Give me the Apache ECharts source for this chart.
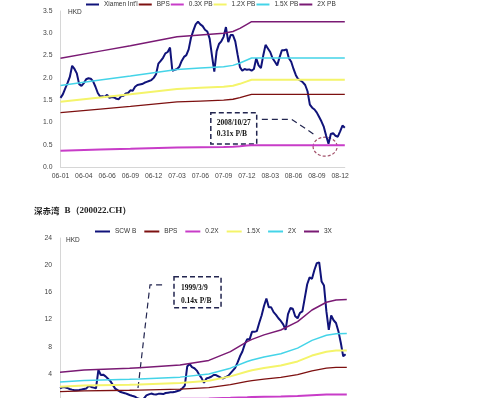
<!DOCTYPE html>
<html>
<head>
<meta charset="utf-8">
<script src="https://cdn.jsdelivr.net/npm/echarts@6/dist/echarts.min.js"></script>
<style>
  html, body { margin: 0; padding: 0; background: #fff; }
  #chart { width: 500px; height: 398px; }
</style>
</head>
<body>
<div id="chart"></div>
<script>
// ---- top chart: Xiamen Int'l (one price value per step, 10 steps between labels)
const topLabels = ['06-01', '06-04', '06-06', '06-09', '06-12', '07-03', '07-06', '07-09', '07-12', '08-03', '08-06', '08-09', '08-12']
const topPrice = [
  1.55, 1.63, 1.76, 1.88, 2.02, 2.27, 2.20, 2.10, 1.86, 1.82,
  1.88, 1.97, 1.99, 1.98, 1.92, 1.80, 1.66, 1.58, 1.59, 1.57,
  1.62, 1.55, 1.57, 1.56, 1.53, 1.52, 1.59, 1.60, 1.65, 1.66,
  1.72, 1.71, 1.80, 1.84, 1.85, 1.86, 1.89, 1.91, 1.93, 1.95,
  2.00, 2.08, 2.32, 2.38, 2.45, 2.55, 2.58, 2.68, 2.16, 2.18,
  2.20, 2.25, 2.38, 2.47, 2.51, 2.64, 2.90, 3.06, 3.20, 3.26,
  3.20, 3.16, 3.08, 3.04, 2.88, 2.50, 2.14, 2.60, 2.76, 2.82,
  2.92, 3.14, 2.80, 2.96, 2.96, 2.82, 2.52, 2.24, 2.16, 2.20,
  2.18, 2.19, 2.16, 2.20, 2.44, 2.28, 2.22, 2.50, 2.74, 2.66,
  2.58, 2.44, 2.36, 2.28, 2.46, 2.62, 2.62, 2.64, 2.44, 2.36,
  2.20, 2.06, 1.97, 1.94, 1.90, 1.84, 1.70, 1.40, 1.33, 1.29,
  1.22, 1.12, 1.02, 0.90, 0.70, 0.52, 0.74, 0.76, 0.70, 0.68,
  0.80, 0.93, 0.88
]
const topBpsX = [0, 17, 30, 50, 60, 70, 74, 77, 80, 82, 122]
const topBps = [1.22, 1.30, 1.36, 1.46, 1.48, 1.50, 1.52, 1.555, 1.60, 1.63, 1.63]
const top03x = [0.366, 0.39, 0.408, 0.438, 0.444, 0.45, 0.456, 0.467, 0.48, 0.489, 0.489]
const top12x = [1.464, 1.56, 1.632, 1.752, 1.776, 1.80, 1.824, 1.866, 1.92, 1.956, 1.956]
const top15x = [1.83, 1.95, 2.04, 2.19, 2.22, 2.25, 2.28, 2.333, 2.40, 2.445, 2.445]
const top2x = [2.44, 2.60, 2.72, 2.92, 2.96, 3.00, 3.04, 3.11, 3.20, 3.26, 3.26]

// ---- bottom chart: 深赤湾 B
const botPrice = [
  1.90, 2.05, 2.05, 1.95, 1.80, 1.70, 1.62, 1.60, 1.65, 1.72,
  1.80, 1.88, 2.25, 2.10, 2.00, 1.90, 4.60, 3.85, 3.90, 3.65,
  3.30, 2.95, 2.40, 1.85, 1.62, 1.40, 1.28, 1.18, 1.05, 0.92,
  0.80, 0.70, 0.50, 0.35, 0.23, 0.40, 0.85, 1.00, 1.12, 1.02,
  1.00, 1.08, 1.10, 1.05, 1.20, 1.25, 1.30, 1.32, 1.40, 1.50,
  1.60, 1.90, 2.30, 5.10, 5.50, 5.00, 4.85, 4.50, 3.90, 3.40,
  2.70, 3.35, 3.45, 3.60, 3.85, 3.85, 3.65, 3.45, 3.35, 3.55,
  3.70, 4.10, 4.50, 4.90, 5.70, 6.60, 7.30, 8.40, 9.10, 9.10,
  10.20, 10.20, 10.30, 11.50, 12.60, 14.00, 15.10, 13.80, 13.80, 13.10,
  12.70, 12.20, 11.80, 11.30, 10.50, 12.80, 13.70, 13.60, 12.50, 12.20,
  13.00, 13.20, 15.20, 17.20, 18.20, 18.00, 19.30, 20.30, 20.40, 17.60,
  17.00, 13.20, 10.50, 12.60, 11.90, 11.50, 10.30, 8.60, 6.60, 6.90
]
const botBpsX = [0, 10, 29, 33, 50, 62, 71, 78, 80, 85, 92, 99, 105, 111, 115, 119.5]
const botBps = [1.42, 1.53, 1.61, 1.64, 1.77, 2.00, 2.43, 2.92, 3.03, 3.25, 3.49, 3.90, 4.47, 4.85, 4.96, 4.98]
const bot02x = [0.28, 0.31, 0.32, 0.33, 0.35, 0.40, 0.49, 0.58, 0.61, 0.65, 0.70, 0.78, 0.89, 0.97, 0.99, 1.00]
const bot15x = [2.13, 2.30, 2.42, 2.46, 2.66, 3.00, 3.65, 4.38, 4.55, 4.88, 5.24, 5.85, 6.71, 7.28, 7.44, 7.47]
const bot2x = [2.84, 3.06, 3.22, 3.28, 3.54, 4.00, 4.86, 5.84, 6.06, 6.50, 6.98, 7.80, 8.94, 9.70, 9.92, 9.96]
const bot3x = [4.26, 4.59, 4.83, 4.92, 5.31, 6.00, 7.29, 8.76, 9.09, 9.75, 10.47, 11.70, 13.41, 14.55, 14.88, 14.94]

const steps = ys => ys.map((y, i) => [i, y])
const pairs = (xs, ys) => xs.map((x, i) => [x, ys[i]])

function line(name, data, color, width, g) {
  return {
    name, type: 'line', data, xAxisIndex: g, yAxisIndex: g,
    symbol: 'none', silent: true,
    lineStyle: { color, width },
    itemStyle: { color }
  }
}

const navy = '#10137a'
const brown = '#7d1010'
const magenta = '#c83cc8'
const yellow = '#f4f46a'
const cyan = '#44d4e8'
const purple = '#7a1a74'

const axisGray = '#d6d6d6'
const labelStyle = { fontSize: 6.8, color: '#444', fontFamily: 'Liberation Sans' }

let chartDom = document.getElementById('chart')
let myChart = echarts.init(chartDom)
let option

option = {
  animation: false,
  backgroundColor: '#fff',
  textStyle: { fontFamily: 'Liberation Sans' },
  title: {
    text: '{cn|深赤湾} {en|B（200022.CH）}',
    left: 34,
    top: 202,
    padding: 0,
    textStyle: {
      rich: {
        cn: { fontFamily: 'Noto Sans CJK SC', fontSize: 8.5, color: '#222' },
        en: { fontFamily: 'Liberation Serif', fontWeight: 'bold', fontSize: 9, color: '#222' }
      }
    }
  },
  legend: [
    {
      data: ['Xiamen Int\'l', 'BPS', '0.3X PB', '1.2X PB', '1.5X PB', '2X PB'],
      left: 86, top: 1, padding: 0,
      icon: 'rect', itemWidth: 13, itemHeight: 2, itemGap: 1,
      textStyle: { fontSize: 6.5, color: '#333' }
    },
    {
      data: ['SCW B', 'BPS', '0.2X', '1.5X', '2X', '3X'],
      left: 95, top: 228, padding: 0,
      icon: 'rect', itemWidth: 15, itemHeight: 2, itemGap: 8,
      textStyle: { fontSize: 6.5, color: '#333' }
    }
  ],
  grid: [
    { left: 60.5, top: 11, width: 284.3, height: 156, outerBoundsMode: 'none' },
    { left: 60, top: 238, width: 286.8, height: 163.2, outerBoundsMode: 'none' }
  ],
  xAxis: [
    {
      gridIndex: 0, type: 'value', min: 0, max: 122, interval: 10,
      axisLine: { lineStyle: { color: axisGray } },
      axisTick: { show: false },
      splitLine: { show: false },
      axisLabel: Object.assign({ margin: 6, formatter: v => (v % 10 === 0 ? topLabels[v / 10] || '' : '') }, labelStyle)
    },
    {
      gridIndex: 1, type: 'value', min: 0, max: 119.5,
      axisLine: { lineStyle: { color: axisGray } },
      axisTick: { show: false },
      splitLine: { show: false },
      axisLabel: { show: false }
    }
  ],
  yAxis: [
    {
      gridIndex: 0, type: 'value', min: 0, max: 3.5, interval: 0.5,
      axisLine: { show: true, lineStyle: { color: axisGray } },
      axisTick: { show: false },
      splitLine: { show: false },
      axisLabel: Object.assign({ margin: 8, formatter: v => v.toFixed(1) }, labelStyle)
    },
    {
      gridIndex: 1, type: 'value', min: 0, max: 24, interval: 4,
      axisLine: { show: true, lineStyle: { color: axisGray } },
      axisTick: { show: false },
      splitLine: { show: false },
      axisLabel: Object.assign({ margin: 8 }, labelStyle)
    }
  ],
  series: [
    line('Xiamen Int\'l', steps(topPrice), navy, 2, 0),
    line('BPS', pairs(topBpsX, topBps), brown, 1.3, 0),
    line('0.3X PB', pairs(topBpsX, top03x), magenta, 2, 0),
    line('1.2X PB', pairs(topBpsX, top12x), yellow, 2, 0),
    line('1.5X PB', pairs(topBpsX, top15x), cyan, 1.5, 0),
    line('2X PB', pairs(topBpsX, top2x), purple, 1.5, 0),

    line('SCW B', steps(botPrice), navy, 2, 1),
    line('BPS', pairs(botBpsX, botBps), brown, 1.3, 1),
    line('0.2X', pairs(botBpsX, bot02x), magenta, 2, 1),
    line('1.5X', pairs(botBpsX, bot15x), yellow, 2, 1),
    line('2X', pairs(botBpsX, bot2x), cyan, 1.5, 1),
    line('3X', pairs(botBpsX, bot3x), purple, 1.5, 1)
  ]
}

option && myChart.setOption(option)

// annotations, anchored in data coordinates of each grid
const toPx = (g, p) => myChart.convertToPixel({ gridIndex: g }, p)
const boxDark = '#22254f'
const noteFont = 'bold 7.5px "Liberation Serif"'

function dashedBox(g, a, b) {
  let p = toPx(g, a), q = toPx(g, b)
  return {
    type: 'rect',
    shape: { x: p[0], y: p[1], width: q[0] - p[0], height: q[1] - p[1] },
    style: { fill: 'none', stroke: boxDark, lineWidth: 1.5, lineDash: [5, 3] }
  }
}
function leader(g, pts) {
  return {
    type: 'polyline',
    shape: { points: pts.map(p => toPx(g, p)) },
    style: { fill: 'none', stroke: boxDark, lineWidth: 1.2, lineDash: [6, 4] }
  }
}
function note(g, p, text) {
  let q = toPx(g, p)
  return { type: 'text', style: { text, x: q[0], y: q[1], font: noteFont, fill: '#111', verticalAlign: 'middle' } }
}
function hkd(g, p) {
  let q = toPx(g, p)
  return { type: 'text', style: { text: 'HKD', x: q[0], y: q[1], font: '6.5px "Liberation Sans"', fill: '#333', verticalAlign: 'middle' } }
}

let c1 = toPx(0, [108.4, 0.669]), c2 = toPx(0, [118.7, 0.242])

myChart.setOption({
  graphic: [
    hkd(0, [3.2, 3.47]),
    hkd(1, [2.5, 23.7]),

    dashedBox(0, [64.5, 1.218], [84.2, 0.516]),
    note(0, [67.0, 0.994], '2008/10/27'),
    note(0, [67.0, 0.74], '0.31x P/B'),
    leader(0, [[86.4, 1.07], [99.2, 1.07], [109.2, 0.718]]),
    {
      type: 'ellipse',
      shape: { cx: (c1[0] + c2[0]) / 2, cy: (c1[1] + c2[1]) / 2, rx: (c2[0] - c1[0]) / 2, ry: (c2[1] - c1[1]) / 2 },
      style: { fill: 'none', stroke: '#a2506a', lineWidth: 1.2, lineDash: [3, 2] }
    },

    leader(1, [[32.5, 1.94], [37.5, 17.12], [44.2, 17.12]]),
    dashedBox(1, [47.5, 18.31], [67.1, 13.75]),
    note(1, [50.4, 16.69], '1999/3/9'),
    note(1, [50.4, 14.78], '0.14x P/B')
  ]
})
</script>
</body>
</html>
